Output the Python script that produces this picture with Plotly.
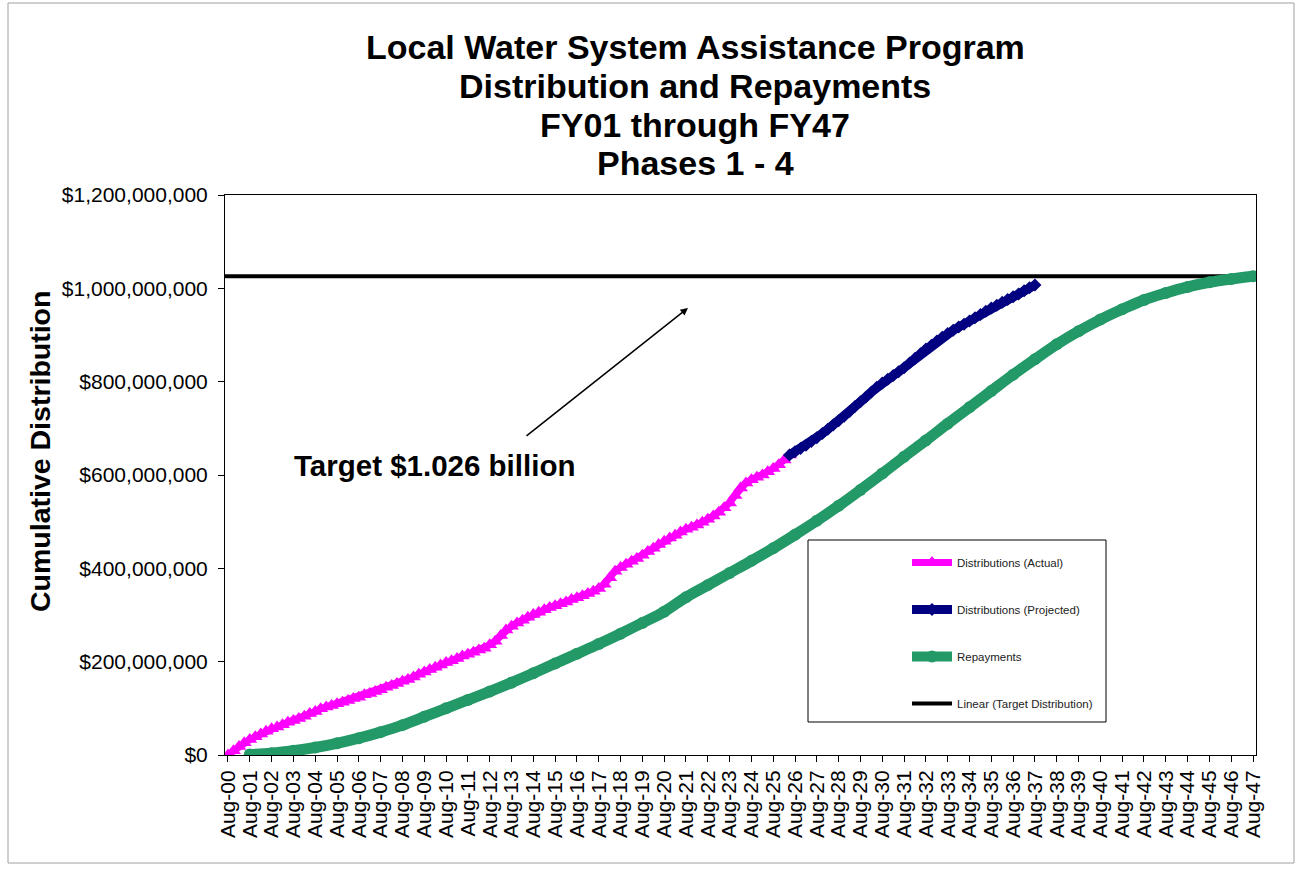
import pandas as pd
import plotly.graph_objects as go

# ---- data (US$ millions) ----
# Actual cumulative distributions, quarterly from Aug-00
ACTUAL_START = "2000-08-01"
ACTUAL = [
    0, 9, 18, 26, 33, 39, 45, 51, 56, 60, 65, 70, 74, 78, 83, 89,
    93, 99, 103, 106, 110, 113, 117, 121, 124, 129, 132, 136, 140, 145, 149, 153,
    158, 162, 167, 173, 178, 183, 188, 193, 198, 202, 207, 212, 216, 220, 225, 229,
    236, 244, 256, 268, 276, 283, 289, 295, 301, 306, 311, 316, 320, 324, 328, 333,
    337, 341, 346, 351, 357, 366, 380, 394, 402, 409, 415, 421, 428, 436, 443, 451,
    458, 465, 471, 478, 484, 488, 493, 499, 505, 512, 520, 530, 540, 556, 572, 583,
    590, 595, 600, 607, 614, 622, 632, 643,
]

# Projected cumulative distributions, quarterly from May-26
PROJECTED_START = "2026-05-01"
PROJECTED = [
    643, 650, 657, 664, 672, 680, 689, 698, 707, 716, 726, 736, 747, 757, 767, 778,
    788, 797, 805, 813, 821, 830, 840, 850, 860, 870, 878, 887, 895, 903, 910, 917,
    923, 930, 937, 944, 951, 958, 964, 970, 976, 982, 988, 995, 1001, 1007,
]

# Cumulative repayments, yearly from Aug-01
REPAY_START = "2001-08-01"
REPAYMENTS = [
    1, 4, 9, 16, 25, 36, 49, 64, 82, 100, 118, 136, 155, 175, 196, 217,
    238, 260, 283, 307, 338, 364, 390, 416, 443, 472, 502, 534, 568, 603, 639, 674,
    710, 745, 780, 815, 848, 880, 908, 933, 955, 975, 990, 1003, 1013, 1020, 1026,
]

TARGET = 1026  # target distribution, US$ millions

X_RANGE = ["2000-06-12", "2047-09-20"]

actual_x = pd.date_range(ACTUAL_START, periods=len(ACTUAL), freq="3MS")
projected_x = pd.date_range(PROJECTED_START, periods=len(PROJECTED), freq="3MS")
repay_x = pd.date_range(REPAY_START, periods=len(REPAYMENTS), freq="12MS")

M = 1e6
FONT = "Arial, Liberation Sans, sans-serif"

fig = go.Figure()

fig.add_trace(go.Scatter(
    x=X_RANGE, y=[TARGET * M, TARGET * M], mode="lines",
    name="Linear (Target Distribution)", legendgroup="t", legendrank=4,
    line=dict(color="#000000", width=4),
))
fig.add_trace(go.Scatter(
    x=actual_x, y=[v * M for v in ACTUAL], mode="lines+markers",
    name="Distributions (Actual)", legendgroup="a", legendrank=1,
    line=dict(color="#FF00FF", width=7),
    marker=dict(symbol="triangle-up", size=13, color="#FF00FF"),
))
fig.add_trace(go.Scatter(
    x=projected_x, y=[v * M for v in PROJECTED], mode="lines+markers",
    name="Distributions (Projected)", legendgroup="p", legendrank=2,
    line=dict(color="#000080", width=9),
    marker=dict(symbol="diamond", size=10, color="#000080"),
))
fig.add_trace(go.Scatter(
    x=repay_x, y=[v * M for v in REPAYMENTS], mode="lines+markers",
    name="Repayments", legendgroup="r", legendrank=3,
    line=dict(color="#229966", width=11, shape="spline"),
    marker=dict(symbol="circle", size=12, color="#229966"),
))

# plot area: x 225..1256 px, y 195..755 px
L, R, T, B = 225, 1256, 195, 755
W, H = R - L, B - T


def px(x):
    return (x - L) / W


def py(y):
    return (B - y) / H


title_lines = [
    ("Local Water System Assistance Program", 47),
    ("Distribution and Repayments", 86),
    ("FY01 through FY47", 125),
    ("Phases 1 - 4", 163),
]
annotations = [
    dict(text="<b>" + t + "</b>", x=px(695), y=py(yy), xref="paper", yref="paper",
         xanchor="center", yanchor="middle", showarrow=False,
         font=dict(family=FONT, size=34, color="#000000"))
    for t, yy in title_lines
]
annotations.append(dict(
    text="<b>Cumulative Distribution</b>", x=px(40), y=py(452),
    xref="paper", yref="paper", xanchor="center", yanchor="middle",
    textangle=-90, showarrow=False,
    font=dict(family=FONT, size=28.5, color="#000000")))
annotations.append(dict(
    text="<b>Target $1.026 billion</b>", x=px(434), y=py(465),
    xref="paper", yref="paper", xanchor="center", yanchor="middle",
    showarrow=False, font=dict(family=FONT, size=29.5, color="#000000")))
annotations.append(dict(
    text="", x=px(688), y=py(308), xref="paper", yref="paper",
    showarrow=True, ax=-163, ay=129, arrowhead=2, arrowsize=1,
    arrowwidth=1.5, arrowcolor="#000000"))

shapes = [
    # legend frame
    dict(type="rect", xref="paper", yref="paper", layer="below",
         x0=px(808), x1=px(1106), y0=py(722), y1=py(540),
         line=dict(color="#000000", width=1), fillcolor="#FFFFFF"),
    # outer chart frame
    dict(type="rect", xref="paper", yref="paper", layer="below",
         x0=px(8), x1=px(1294), y0=py(863), y1=py(3),
         line=dict(color="#A0A0A0", width=1), fillcolor="rgba(0,0,0,0)"),
]

fig.update_layout(
    width=1302, height=869, autosize=False,
    margin=dict(l=L, r=1302 - R, t=T, b=869 - B, pad=0),
    paper_bgcolor="#FFFFFF", plot_bgcolor="#FFFFFF",
    font=dict(family=FONT, color="#000000"),
    showlegend=True,
    legend=dict(
        x=px(907), y=py(548), xanchor="left", yanchor="top",
        bgcolor="rgba(0,0,0,0)", borderwidth=0, tracegroupgap=28,
        itemwidth=40,
        font=dict(family=FONT, size=11.5, color="#222222"),
    ),
    annotations=annotations,
    shapes=shapes,
)

fig.update_xaxes(
    type="date", range=X_RANGE, tick0="2000-08-01", dtick="M12",
    tickformat="%b-%y", tickangle=-90,
    ticks="outside", ticklen=6, tickcolor="#000000",
    showline=True, linecolor="#000000", linewidth=1, mirror=True,
    showgrid=False, zeroline=False,
    tickfont=dict(family=FONT, size=21, color="#000000"),
)
fig.update_yaxes(
    range=[0, 1.2e9], dtick=2e8, tickprefix="$", tickformat=",.0f",
    ticks="outside", ticklen=6, tickcolor="#000000", ticklabelstandoff=6,
    showline=True, linecolor="#000000", linewidth=1, mirror=True,
    showgrid=False, zeroline=False,
    tickfont=dict(family=FONT, size=21, color="#000000"),
)

fig.write_html("out.html", config={"displayModeBar": False})
